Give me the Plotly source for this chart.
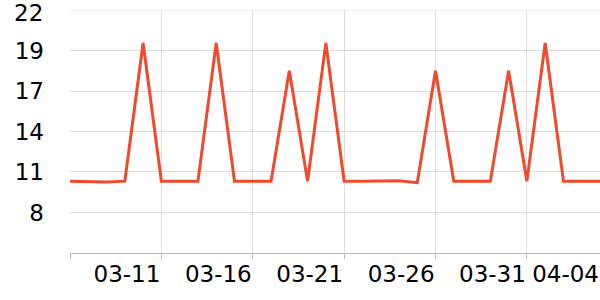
import plotly.graph_objects as go

dates = ["03-06","03-07","03-08","03-09","03-10","03-11","03-12","03-13","03-14","03-15",
         "03-16","03-17","03-18","03-19","03-20","03-21","03-22","03-23","03-24","03-25",
         "03-26","03-27","03-28","03-29","03-30","03-31","04-01","04-02","04-03","04-04"]
values = [10.45, 10.4, 10.4, 10.45, 19.77, 10.45, 10.45, 10.45, 19.77, 10.45,
          10.45, 10.45, 17.9, 10.45, 19.77, 10.45, 10.45, 10.47, 10.47, 10.35,
          17.9, 10.45, 10.45, 10.45, 17.9, 10.45, 19.77, 10.45, 10.45, 10.45]

x_tickvals = ["03-06", "03-11", "03-16", "03-21", "03-26", "03-31", "04-04"]
x_ticktext = ["", "03-11", "03-16", "03-21", "03-26", "03-31", "04-04"]
y_tickvals = [8.33, 11.07, 13.8, 16.53, 19.27, 22]
y_ticktext = ["8", "11", "14", "17", "19", "22"]

fig = go.Figure(go.Scatter(x=dates, y=values, mode="lines",
                           line=dict(color="#ef4a2c", width=3)))

fig.update_layout(
    width=600, height=300,
    margin=dict(l=70, r=0, t=10, b=47, autoexpand=False),
    paper_bgcolor="white", plot_bgcolor="white",
    showlegend=False,
    font=dict(family="DejaVu Sans", size=23, color="#000"),
)
fig.update_xaxes(type="category", range=[0, 29],
                 tickvals=x_tickvals, ticktext=x_ticktext,
                 tickangle=0, automargin=False,
                 ticklabelposition="outside left",
                 showgrid=True, gridcolor="#dddddd", gridwidth=1,
                 showline=True, linecolor="#bbbbbb", linewidth=1,
                 ticks="outside", ticklen=5, tickcolor="#bbbbbb")
fig.update_yaxes(range=[5.6, 22], tickvals=y_tickvals[:-1], ticktext=y_ticktext[:-1],
                 automargin=False,
                 showgrid=True, gridcolor="#dddddd", gridwidth=1,
                 zeroline=False, showline=False, ticks="",
                 ticklabelstandoff=25)
# top tick (at the range edge) drawn as a gridline + label
fig.add_shape(type="line", xref="paper", yref="y", x0=0, x1=1,
              y0=y_tickvals[-1], y1=y_tickvals[-1],
              line=dict(color="#dddddd", width=1), layer="below")
fig.add_annotation(text=y_ticktext[-1], xref="paper", yref="y", x=0,
                   y=y_tickvals[-1], xanchor="right", yanchor="middle",
                   xshift=-25, yshift=-3, showarrow=False,
                   font=dict(family="DejaVu Sans", size=23, color="#000"))

fig.write_html("out.html")
